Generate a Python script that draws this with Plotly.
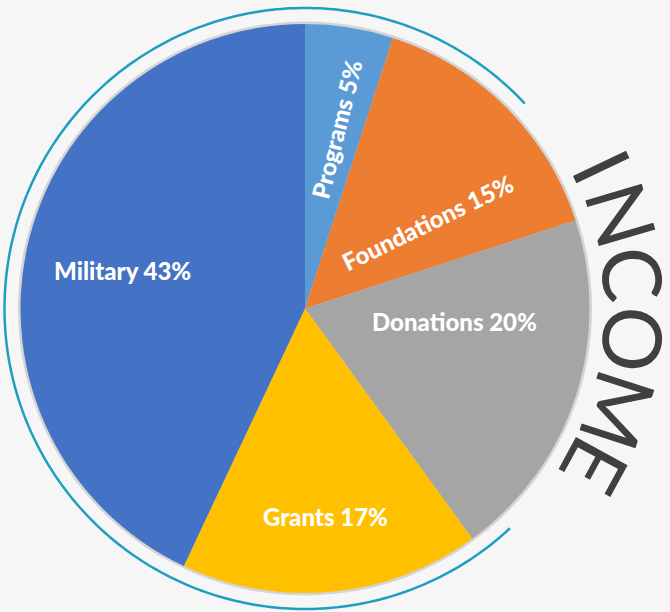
import numpy as np
import plotly.graph_objects as go

# ---- data ----
categories = ["Programs", "Foundations", "Donations", "Grants", "Military"]
values = [5, 15, 20, 17, 43]
colors = ["#5B9BD5", "#ED7D31", "#A5A5A5", "#FFC000", "#4472C4"]
title_letters = ["I", "N", "C", "O", "M", "E"]

W, H = 670, 612
cx, cy, R = 305, 308.5, 284.5

fig = go.Figure()

fig.add_trace(go.Pie(
    labels=categories, values=values, sort=False, direction="clockwise", rotation=0,
    marker=dict(colors=colors, line=dict(width=0)),
    textinfo="none", hoverinfo="label+percent", showlegend=False,
    domain=dict(x=[(cx - R) / W, (cx + R) / W], y=[(H - cy - R) / H, (H - cy + R) / H]),
))

# slice label placement (pixel positions and angles)
label_pos = {
    "Programs": (336, 129, -76),
    "Foundations": (427, 222, -26),
    "Donations": (454, 321, 0),
    "Grants": (325, 516, 0),
    "Military": (122, 270, 0),
}
annotations = []
for c, v in zip(categories, values):
    x, y, a = label_pos[c]
    annotations.append(dict(x=x, y=y, xref="x", yref="y", text=f"{c} {v}%",
                            showarrow=False, textangle=a,
                            font=dict(family="Lato", size=24, color="white", weight=900)))

# INCOME letters around the right side
letter_angles = [25.5, 16.5, 6.0, -5.5, -18.0, -28.5]
Rt = 331
for ch, ang in zip(title_letters, letter_angles):
    t = np.deg2rad(ang)
    annotations.append(dict(x=cx + Rt * np.cos(t), y=cy - Rt * np.sin(t), xref="x", yref="y",
                            text=ch, showarrow=False, textangle=90 - ang,
                            font=dict(family="Lato", size=82, color="#404040", weight=400)))

# teal ring arc
Ra = 300.5
th = np.deg2rad(np.linspace(43, 313, 300))
pts = [(cx + Ra * np.cos(t), cy - Ra * np.sin(t)) for t in th]
path = "M " + " L ".join(f"{x:.2f},{y:.2f}" for x, y in pts)

shapes = [
    dict(type="circle", xref="x", yref="y", x0=cx - R - 2.5, x1=cx + R + 2.5,
         y0=cy - R - 2.5, y1=cy + R + 2.5, fillcolor="#d4d4d4", line=dict(width=0), layer="below"),
    dict(type="path", xref="x", yref="y", path=path, line=dict(color="#1F9EC0", width=2.5)),
]

fig.update_layout(
    width=W, height=H, margin=dict(l=0, r=0, t=0, b=0),
    paper_bgcolor="#f6f6f6", plot_bgcolor="#f6f6f6",
    xaxis=dict(range=[0, W], visible=False, fixedrange=True),
    yaxis=dict(range=[H, 0], visible=False, fixedrange=True),
    annotations=annotations, shapes=shapes,
)

fig.write_html("out.html", config={"displayModeBar": False},
               post_script="document.body.style.margin='0';document.body.style.overflow='hidden';")
